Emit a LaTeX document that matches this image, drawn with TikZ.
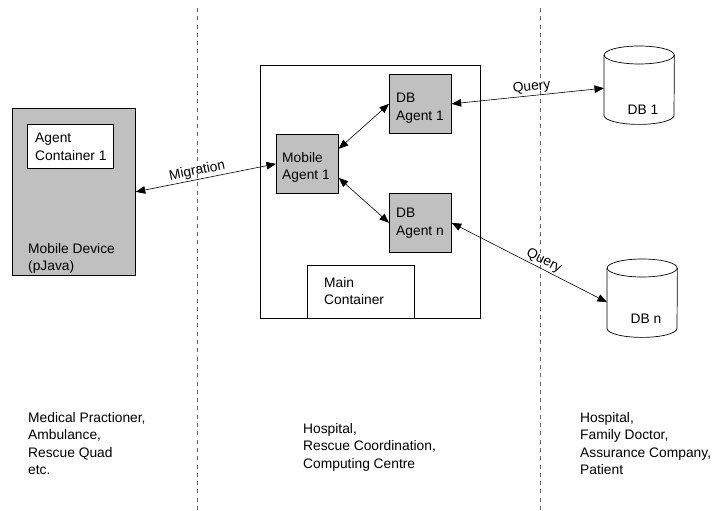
\documentclass[tikz,border=0pt]{standalone}
\usepackage{fontspec}
\setmainfont{Liberation Sans}
\usetikzlibrary{arrows.meta}
\definecolor{boxgray}{HTML}{C0C0C0}
\tikzset{
  box/.style={draw=black, line width=0.7pt, inner sep=0pt, anchor=north west},
  agentbox/.style={box, fill=boxgray, minimum width=62pt, minimum height=59pt},
  txt/.style={anchor=north west, inner sep=0pt, align=left, font=\fontsize{13.8}{17.5}\selectfont},
  link/.style={line width=0.6pt, {Triangle[length=9.5pt,width=7.5pt]}-{Triangle[length=9.5pt,width=7.5pt]}},
  zone/.style={black!60, line width=0.9pt, dash pattern=on 4pt off 4.3pt},
  lbl/.style={font=\fontsize{13.8}{16}\selectfont, inner sep=1.5pt, sloped, above},
  cyl/.style={draw=black, line width=0.7pt},
  dbframe/.style={inner sep=0pt, anchor=north west, minimum width=70pt, minimum height=78pt}
}
\begin{document}
\begin{tikzpicture}[x=1pt,y=-1pt]
\useasboundingbox (0,0) rectangle (721,511);

% zone separators
\coordinate (z1top) at (197,8);
\coordinate (z1bot) at (197,511);
\coordinate (z2top) at (540,8);
\coordinate (z2bot) at (540,511);
\draw[zone] (z1top) -- (z1bot);
\draw[zone] (z2top) -- (z2bot);

% mobile device
\node[box, fill=boxgray, minimum width=123pt, minimum height=167pt] (device) at (12,108) {};
\node[box, fill=white, minimum width=86pt, minimum height=44pt] (agentcont) at (27,124) {};
\node[txt] (actxt) at (35,133) {Agent\\Container 1};
\node[txt] (devtxt) at (28,243) {Mobile Device\\(pJava)};

% main container
\node[box, minimum width=220pt, minimum height=253pt] (maincont) at (260,65) {};
\node[box, fill=white, minimum width=107pt, minimum height=53pt] (mclabel) at (307,265) {};
\node[txt] (mctxt) at (324,277) {Main\\Container};

\node[agentbox] (mobile) at (276,134) {};
\node[txt] (matxt) at (282,152) {Mobile\\Agent 1};
\node[agentbox] (dba1) at (389,74) {};
\node[txt] (dba1txt) at (396,93) {DB\\Agent 1};
\node[agentbox] (dban) at (389,193) {};
\node[txt] (dbantxt) at (396,208) {DB\\Agent n};

% databases
\node[dbframe] (db1) at (604,46) {};
\draw[cyl] ([yshift=-9pt]db1.north west) -- ([yshift=9pt]db1.south west)
  arc[start angle=180, end angle=360, x radius=35pt, y radius=9pt]
  -- ([yshift=-9pt]db1.north east);
\draw[cyl] ([yshift=-9pt]db1.north) ellipse [x radius=35pt, y radius=9pt];
\node[txt, anchor=center] (db1txt) at (643,110) {DB 1};

\node[dbframe] (dbn) at (607,259) {};
\draw[cyl] ([yshift=-9pt]dbn.north west) -- ([yshift=9pt]dbn.south west)
  arc[start angle=180, end angle=360, x radius=35pt, y radius=9pt]
  -- ([yshift=-9pt]dbn.north east);
\draw[cyl] ([yshift=-9pt]dbn.north) ellipse [x radius=35pt, y radius=9pt];
\node[txt, anchor=center] (dbntxt) at (646,319) {DB n};

% connectors
\draw[link] (device.east) -- node[lbl, pos=0.45] {Migration} (mobile.west);
\draw[link] ([yshift=15pt]mobile.east) -- (dba1.west);
\draw[link] ([yshift=-14pt]mobile.east) -- (dban.west);
\draw[link] (dba1.east) -- node[lbl, pos=0.53] {Query} ([yshift=-3pt]db1.west);
\draw[link] (dban.east) -- node[lbl, pos=0.57] {Query} ([yshift=-4pt]dbn.west);

% zone descriptions
\node[txt] (zoneleft) at (28,412) {Medical Practioner,\\Ambulance,\\Rescue Quad\\etc.};
\node[txt] (zonemid) at (303,423) {Hospital,\\Rescue Coordination,\\Computing Centre};
\node[txt] (zoneright) at (580,412) {Hospital,\\Family Doctor,\\Assurance Company,\\Patient};
\end{tikzpicture}
\end{document}
